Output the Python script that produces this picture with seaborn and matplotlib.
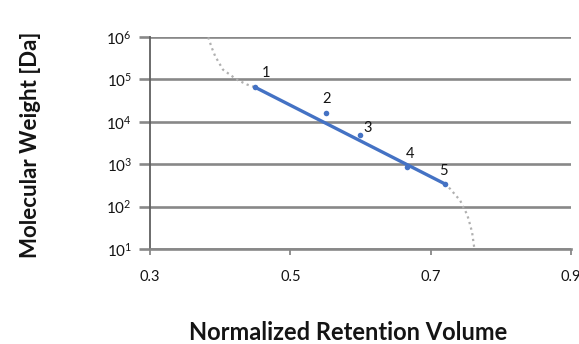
import matplotlib
matplotlib.use("Agg")
import matplotlib.pyplot as plt
import seaborn as sns
import pandas as pd

# Calibration standards (normalized retention volume, molecular weight)
std_labels = ["1", "2", "3", "4", "5"]
std_volume = [0.450, 0.551, 0.599, 0.666, 0.720]
std_mw = [6.5e4, 1.64e4, 5.0e3, 870, 345]

# Linear calibration range
lin_volume = [0.450, 0.720]
lin_mw = [6.5e4, 345]

# Full calibration curve (dotted), upper and lower tails
upper_volume = [0.383, 0.388, 0.393, 0.404, 0.424, 0.438, 0.450]
upper_mw = [9.8e5, 5.6e5, 3.5e5, 1.7e5, 9.8e4, 7.6e4, 6.5e4]
lower_volume = [0.720, 0.728, 0.735, 0.742, 0.747, 0.752, 0.755, 0.759, 0.762]
lower_mw = [345, 260, 190, 140, 93, 65, 44, 25, 11]

x_ticks = [0.3, 0.5, 0.7, 0.9]
y_exponents = [1, 2, 3, 4, 5, 6]

sns.set_theme(style="white")
plt.rcParams["font.family"] = ["Lato", "DejaVu Sans"]
plt.rcParams["mathtext.fontset"] = "custom"
plt.rcParams["mathtext.rm"] = "Lato"
plt.rcParams["mathtext.it"] = "Lato"
plt.rcParams["mathtext.bf"] = "Lato:bold"

fig = plt.figure(figsize=(5.79, 3.44), dpi=100)
ax = fig.add_axes([150 / 579, 1 - 249 / 344, 421 / 579, 212 / 344])

grid_color = "#888888"
blue = "#4472C4"
dot_color = "#b0b0b0"
text_color = "#141414"

dotted = pd.DataFrame({
    "volume": upper_volume + lower_volume,
    "mw": upper_mw + lower_mw,
    "part": ["upper"] * len(upper_volume) + ["lower"] * len(lower_volume),
})
for part, sub in dotted.groupby("part"):
    sns.lineplot(data=sub, x="volume", y="mw", ax=ax, color=dot_color,
                 linestyle=(0, (1, 1.6)), linewidth=1.6, sort=False,
                 estimator=None, zorder=3)

lin = pd.DataFrame({"volume": lin_volume, "mw": lin_mw})
sns.lineplot(data=lin, x="volume", y="mw", ax=ax, color=blue,
             linewidth=2.4, estimator=None, zorder=4)

stds = pd.DataFrame({"volume": std_volume, "mw": std_mw, "label": std_labels})
sns.scatterplot(data=stds, x="volume", y="mw", ax=ax, color=blue, s=16,
                edgecolor=blue, linewidth=0, zorder=5)

label_offsets = {"1": (8, 10), "2": (0, 10), "3": (6, 5), "4": (2, 9), "5": (-1, 9)}
for lab, vx, vy in zip(std_labels, std_volume, std_mw):
    ax.annotate(lab, (vx, vy), xytext=label_offsets[lab], textcoords="offset points",
                ha="center", va="center", fontsize=10.5, color=text_color, zorder=6)

ax.set_yscale("log")
ax.set_xlim(0.3, 0.9)
ax.set_ylim(10, 1e6)
ax.set_xticks(x_ticks)
ax.set_xticklabels([f"{t:.1f}" for t in x_ticks])
ax.set_yticks([10.0 ** e for e in y_exponents])
ax.set_yticklabels([rf"$\mathregular{{10^{{{e}}}}}$" for e in y_exponents])
ax.yaxis.set_minor_locator(matplotlib.ticker.NullLocator())

ax.grid(axis="y", color=grid_color, linewidth=1.9, zorder=1)
ax.grid(axis="x", visible=False)
ax.set_axisbelow(True)

for side in ["top", "right"]:
    ax.spines[side].set_visible(False)
ax.spines["left"].set_color("#606060")
ax.spines["left"].set_linewidth(1.3)
ax.spines["left"].set_zorder(2)
ax.spines["bottom"].set_color(grid_color)
ax.spines["bottom"].set_linewidth(1.9)

ax.tick_params(axis="y", which="major", length=8, width=1.9, color=grid_color,
               labelsize=11, pad=5, labelcolor=text_color, left=True)
ax.tick_params(axis="x", which="major", length=4, width=1.3, color=grid_color,
               labelsize=10.5, pad=11, labelcolor=text_color, bottom=True)

ax.set_xlabel("Normalized Retention Volume", fontsize=17, fontweight="bold",
              color=text_color)
ax.set_ylabel("Molecular Weight [Da]", fontsize=16, fontweight="bold",
              color=text_color)
ax.xaxis.set_label_coords(0.470, -0.392)
ax.yaxis.set_label_coords(-0.285, 0.49)
ax.xaxis.label.set_va("center")
ax.yaxis.label.set_va("center")

fig.savefig("out.png", dpi=100)
